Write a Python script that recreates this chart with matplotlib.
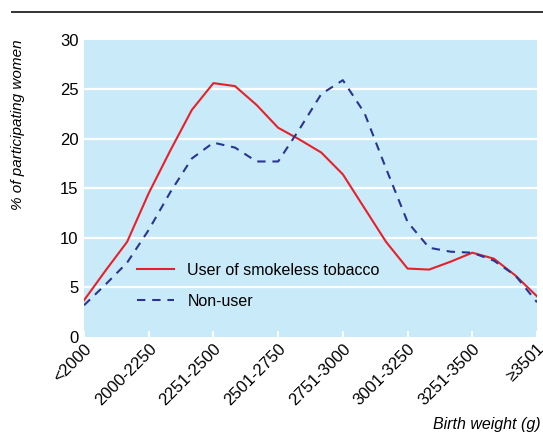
import matplotlib
matplotlib.use('Agg')
from matplotlib import pyplot as plt
from matplotlib.lines import Line2D

plt.rcParams['font.family'] = ['Liberation Sans Narrow', 'Liberation Sans', 'DejaVu Sans']

categories = ['<2000', '2000-2250', '2251-2500', '2501-2750', '2751-3000',
              '3001-3250', '3251-3500', '\u22653501']

# curve sampled at thirds of a category step
steps = [i / 3 for i in range(22)]
user = [3.7, 6.7, 9.6, 14.5, 18.8, 22.9, 25.6, 25.3, 23.4, 21.1, 19.9,
        18.6, 16.4, 13.0, 9.6, 6.9, 6.8, 7.6, 8.5, 7.9, 6.2, 4.1]
nonuser = [3.2, 5.3, 7.5, 10.8, 14.6, 18.0, 19.6, 19.1, 17.7, 17.7, 21.0,
           24.5, 25.9, 22.6, 17.0, 11.6, 9.0, 8.6, 8.5, 7.7, 6.2, 3.5]

fig = plt.figure(figsize=(5.43, 4.33), dpi=100)
ax = fig.add_axes([84 / 543, 1 - 337 / 433, 453 / 543, 297.5 / 433])
ax.set_facecolor('#c8eaf9')
for s in ax.spines.values():
    s.set_visible(False)

ax.set_yticks(range(0, 31, 5))
for y in range(5, 30, 5):
    ax.axhline(y, color='white', lw=1.6, zorder=1)

ax.plot(steps, user, color='#e8202a', lw=1.5, zorder=3,
        label='User of smokeless tobacco')
ax.plot(steps, nonuser, color='#2b3590', lw=1.5, ls=(0, (4, 3.3)), zorder=3,
        label='Non-user')

ax.set_xlim(0, 7)
ax.set_ylim(0, 30)
ax.set_xticks(range(len(categories)))
ax.set_xticklabels(categories, rotation=45, ha='right', va='top',
                   rotation_mode='anchor')
ax.tick_params(axis='x', direction='in', length=4, width=1.4, color='white',
               labelsize=12, pad=3)
ax.tick_params(axis='y', length=0, labelsize=12, pad=4)

ax.legend(loc='upper left', bbox_to_anchor=(0.117, 0.25), frameon=False,
          fontsize=11.5, handlelength=2.3, handletextpad=0.85,
          labelspacing=1.0, borderpad=0, borderaxespad=0)

fig.text(18 / 543, 1 - 39 / 433, '% of participating women', rotation=90,
         ha='center', va='top', fontsize=11, style='italic')
fig.text(541 / 543, 1 - 425 / 433, 'Birth weight (g)', ha='right',
         va='center', fontsize=11.5, style='italic')
fig.add_artist(Line2D([12 / 543, 1], [1 - 12 / 433] * 2, color='#333333',
                      lw=1.4))

fig.savefig('out.png', dpi=100)
plt.close(fig)
